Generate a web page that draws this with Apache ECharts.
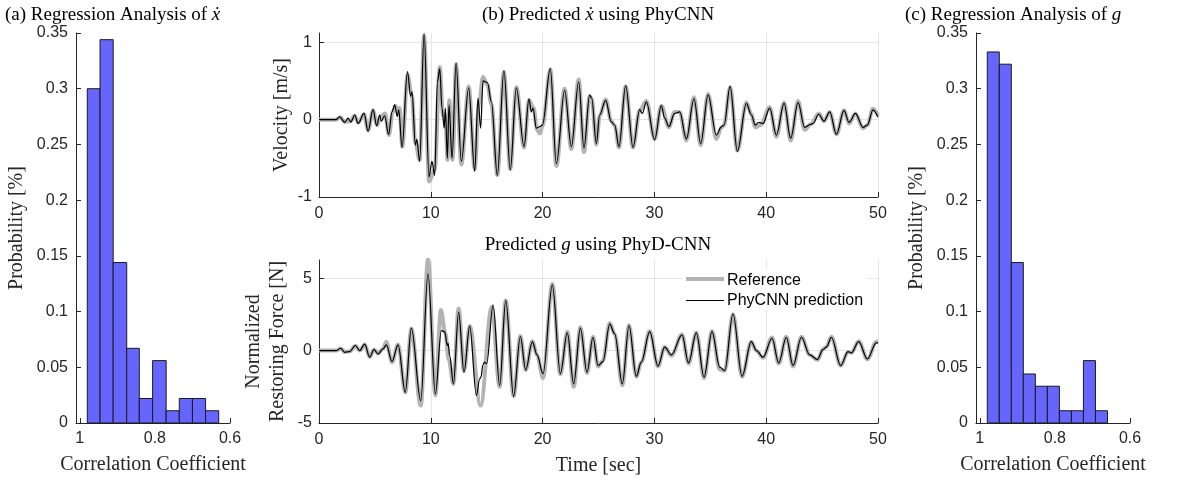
<!DOCTYPE html>
<html><head><meta charset="utf-8">
<script src="https://cdn.jsdelivr.net/npm/echarts@6/dist/echarts.min.js"></script>
<style>html,body{margin:0;padding:0;background:#fff}#c{width:1184px;height:480px}</style>
</head><body><div id="c"></div>
<script>
// ---------- Histogram (a): regression of x-dot ----------
const binEdgesA = [0.980, 0.946, 0.911, 0.875, 0.8415, 0.806, 0.770, 0.735, 0.700, 0.665, 0.630];
const probA = [0.300, 0.344, 0.144, 0.067, 0.022, 0.056, 0.011, 0.022, 0.022, 0.011];
// ---------- Histogram (c): regression of g ----------
const binEdgesC = [0.980, 0.948, 0.916, 0.884, 0.852, 0.820, 0.788, 0.756, 0.724, 0.692, 0.660];
const probC = [0.333, 0.322, 0.144, 0.044, 0.033, 0.033, 0.011, 0.011, 0.056, 0.011];
const corrTicks = ['1', '0.8', '0.6'];

// ---------- (b) velocity: reference ----------
const velRefT = [0,1.5,1.9,2.3,2.8,3.2,3.5,4.03,4.39,4.83,5.2,5.5,5.9,6.25,6.6,6.85,7.05,7.2,7.45,7.92,8.3,8.62,9.0,9.4,9.85,10.35,10.8,11.1,11.3,11.5,11.65,11.95,12.26,12.73,13.39,13.93,14.3,14.67,15.06,15.42,15.95,16.54,17.11,17.65,18.34,18.78,19.2,19.5,19.75,20.0,20.69,21.23,21.97,22.57,23.23,23.70,24.21,24.39,24.81,25.1,25.64,26.15,26.45,26.83,27.43,28.09,28.68,29.28,30.02,30.62,31.3,31.8,32.26,32.86,33.54,34.14,34.8,35.54,36.0,36.23,36.77,37.42,38.23,38.67,39.03,39.5,40.31,40.91,41.6,42.19,42.85,43.44,43.98,44.7,45.17,45.68,46.28,46.96,47.41,47.98,48.66,49.05,49.55,50];
const velRefV = [0,0,0.03,-0.03,-0.02,0.05,-0.04,0.07,-0.14,0.12,-0.07,0.04,0.08,-0.2,0.1,0.18,0.08,0.15,-0.35,0.58,0.32,-0.3,-0.52,1.08,-0.80,-0.65,0.68,0.05,0.05,-0.52,0.25,-0.52,0.72,-0.58,0.43,-0.64,0.2,0.55,0.45,0.2,-0.72,0.62,-0.64,0.42,-0.36,0.25,0.15,-0.13,-0.18,-0.08,0.65,-0.60,0.40,-0.38,0.52,-0.42,0.30,0.27,-0.32,0.05,0.26,-0.02,-0.08,-0.36,0.43,-0.36,0.12,0.24,-0.25,0.18,-0.1,0.1,0.1,-0.27,0.29,-0.33,0.33,-0.25,-0.1,-0.07,0.42,-0.40,0.22,0.07,-0.1,-0.07,0.16,-0.22,0.22,-0.27,0.24,-0.13,-0.06,0.08,-0.02,0.10,-0.19,0.12,-0.05,0.08,-0.11,-0.07,0.14,0.05];
// ---------- (b) velocity: PhyCNN prediction ----------
const velPredT = [0,1.5,1.85,2.3,2.6,2.84,3.2,3.5,4.03,4.39,4.83,5.16,5.43,5.58,5.87,6.23,6.53,6.77,7.0,7.13,7.43,7.91,8.2,8.32,8.62,8.75,9.0,9.4,9.84,10.1,10.35,10.59,10.8,11.0,11.2,11.3,11.48,11.63,11.9,12.26,12.73,13.39,13.93,14.22,14.46,14.67,15.06,15.42,15.95,16.54,17.11,17.65,18.34,18.78,18.99,19.14,19.44,19.74,19.98,20.69,21.23,21.97,22.57,23.23,23.70,24.21,24.39,24.81,25.1,25.64,26.15,26.45,26.83,27.43,28.09,28.68,28.92,29.28,30.02,30.62,30.92,31.3,31.8,32.26,32.86,33.54,34.14,34.8,35.54,36.0,36.23,36.77,37.42,38.23,38.67,39.03,39.33,39.72,40.31,40.91,41.6,42.19,42.85,43.44,43.98,44.19,44.7,45.17,45.68,46.28,46.96,47.41,47.98,48.66,49.05,49.55,50];
const velPredV = [0,0,0.035,-0.035,0.02,-0.03,0.06,-0.05,0.08,-0.15,0.13,-0.08,0.06,-0.02,0.05,-0.19,0.10,0.19,0.04,0.125,-0.36,0.62,0.30,0.36,-0.33,-0.25,-0.54,1.12,-0.74,-0.54,-0.72,0.49,0.66,0.15,-0.11,0.15,-0.50,0.19,-0.5,0.73,-0.54,0.41,-0.67,0.28,-0.11,0.50,0.48,0.23,-0.72,0.63,-0.65,0.41,-0.35,0.27,0.10,0.15,-0.11,-0.09,-0.07,0.66,-0.57,0.38,-0.35,0.49,-0.37,0.32,0.28,-0.31,0.06,0.25,-0.03,-0.07,-0.35,0.44,-0.36,0.13,0.08,0.23,-0.26,0.18,0.02,-0.09,0.08,0.10,-0.25,0.27,-0.31,0.32,-0.20,-0.09,-0.07,0.43,-0.41,0.21,0.06,-0.07,-0.035,-0.05,0.15,-0.20,0.21,-0.24,0.22,-0.10,-0.06,-0.05,0.07,-0.02,0.10,-0.19,0.12,-0.035,0.08,-0.10,-0.07,0.125,0.03];

// ---------- (b) restoring force: reference ----------
const frcRefT = [0,1.55,1.94,2.3,2.75,3.25,3.64,4.09,4.53,4.92,5.28,5.73,6.02,6.53,7.07,7.72,8.26,9.1,9.75,10.41,10.9,11.3,11.6,12.02,12.49,12.97,13.48,14.45,15.45,16.16,16.7,17.41,18.01,18.49,19.08,19.5,20.04,20.87,21.59,22.21,22.78,23.38,23.97,24.51,24.96,25.4,26.0,26.45,27.13,27.73,28.38,28.83,29.58,30.32,30.92,31.52,32.47,33.05,33.75,34.44,35.15,35.84,36.29,37.03,37.84,38.67,39.12,39.72,40.52,41.12,41.8,42.4,43.15,43.89,44.58,45.08,45.38,45.83,46.66,47.32,47.62,48.27,49.05,49.85,50];
const frcRefV = [0,0,0.14,-0.1,-0.05,0.33,0,0.42,-0.45,0.08,-0.22,0.14,0.6,-0.8,0.42,-2.9,1.5,-3.8,6.3,-3.1,2.8,1.2,-0.6,-2.3,2.9,-1.4,1.7,-3.8,3.0,-2.5,3.45,-3.15,1.0,-1.35,0.65,-0.3,-1.9,4.6,-1.65,1.3,-2.5,1.6,-1.55,0.95,-1.1,-0.7,1.9,1.15,-2.4,1.75,-1.8,-0.8,1.35,-1.1,0.25,-0.35,1.1,-0.9,1.25,-1.9,1.35,-1.3,-1.4,2.5,-1.8,0.6,0,-0.5,0.9,-0.9,0.95,-1.1,0.95,-0.3,-0.65,0.1,0.25,0.95,-1.05,-0.1,-0.15,0.65,-0.6,0.6,0.6];
// ---------- (b) restoring force: PhyCNN prediction ----------
const frcPredT = [0,1.55,1.94,2.3,2.75,3.25,3.64,4.09,4.53,4.92,5.28,5.73,6.02,6.53,7.07,7.72,8.26,9.1,9.75,10.41,10.94,11.24,11.48,11.55,11.69,12.02,12.49,12.97,13.48,14.08,14.37,14.5,14.65,14.82,15.0,15.57,16.16,16.7,17.41,18.01,18.49,19.08,19.5,20.04,20.87,21.59,22.21,22.78,23.38,23.97,24.51,24.96,25.4,26.0,26.45,27.13,27.73,28.38,28.83,29.58,30.32,30.92,31.52,32.47,33.05,33.75,34.44,35.15,35.84,36.29,37.03,37.84,38.67,39.12,39.72,40.52,41.12,41.8,42.4,43.15,43.89,44.58,45.08,45.38,45.83,46.66,47.32,47.62,48.27,49.05,49.85,50];
const frcPredV = [0,0,0.16,-0.12,-0.07,0.35,0,0.44,-0.46,0.07,-0.23,0.12,0.39,-0.76,0.39,-2.88,1.55,-3.46,5.3,-3.0,1.38,1.3,0.35,0.5,-0.35,-2.3,2.65,-1.5,1.68,-3.1,-1.96,-1.8,-1.0,-0.8,-0.9,3.16,-2.42,3.46,-3.16,0.97,-1.34,0.62,-0.3,-1.6,4.54,-1.6,1.22,-2.3,1.55,-1.5,0.92,-1.04,-0.76,1.82,1.15,-2.3,1.73,-1.78,-0.8,1.31,-1.08,0.23,-0.3,1.08,-0.85,1.22,-1.84,1.31,-1.15,-1.38,2.54,-1.78,0.62,0,-0.46,0.85,-0.85,0.92,-1.04,0.92,-0.3,-0.62,0.07,0.23,0.92,-1.04,-0.07,-0.16,0.62,-0.58,0.53,0.55];
const legendNames = ['Reference', 'PhyCNN prediction'];

const pair = (t, v) => t.map((x, i) => [x, v[i]]);
const histData = (edges, p) => p.map((h, i) => [edges[i], edges[i + 1], h]);

const AX = '#262626', GRID = '#e4e4e4', REF = '#b3b3b3';
const SANS = '"Liberation Sans", Arial, sans-serif';
const SERIF = '"Liberation Serif", "Times New Roman", serif';
const FS = 16, NS = 20, TS = 19;

function histX(idx) {
  return {
    gridIndex: idx, type: 'value', inverse: true, min: 0.6, max: 1.01, interval: 0.2,
    axisLine: {show: true, lineStyle: {color: AX}},
    axisTick: {show: true, inside: true, length: 5, lineStyle: {color: AX}},
    splitLine: {show: false},
    axisLabel: {color: AX, fontFamily: SANS, fontSize: FS, margin: 8,
      formatter: v => Math.abs(v - 1) < 1e-6 ? corrTicks[0] : Math.abs(v - 0.8) < 1e-6 ? corrTicks[1] : Math.abs(v - 0.6) < 1e-6 ? corrTicks[2] : ''},
    name: 'Correlation Coefficient', nameLocation: 'middle', nameGap: 32,
    nameTextStyle: {color: AX, fontFamily: SERIF, fontSize: NS}
  };
}
function histY(idx) {
  return {
    gridIndex: idx, type: 'value', min: 0, max: 0.35, interval: 0.05,
    axisLine: {show: true, lineStyle: {color: AX}},
    axisTick: {show: true, inside: true, length: 5, lineStyle: {color: AX}},
    splitLine: {show: false},
    axisLabel: {color: AX, fontFamily: SANS, fontSize: FS, margin: 8},
    name: 'Probability [%]', nameLocation: 'middle', nameGap: 49, nameRotate: 90,
    nameTextStyle: {color: AX, fontFamily: SERIF, fontSize: NS}
  };
}
function timeX(idx, withName) {
  return {
    gridIndex: idx, type: 'value', min: 0, max: 50, interval: 10,
    axisLine: {show: true, onZero: false, lineStyle: {color: AX}},
    axisTick: {show: true, inside: true, length: 5, lineStyle: {color: AX}},
    splitLine: {show: true, lineStyle: {color: GRID}},
    axisLabel: {color: AX, fontFamily: SANS, fontSize: FS, margin: 9},
    name: withName ? 'Time [sec]' : '', nameLocation: 'middle', nameGap: 33,
    nameTextStyle: {color: AX, fontFamily: SERIF, fontSize: NS}
  };
}
function timeY(idx, min, max, interval, name, gap) {
  return {
    gridIndex: idx, type: 'value', min: min, max: max, interval: interval,
    axisLine: {show: true, lineStyle: {color: AX}},
    axisTick: {show: true, inside: true, length: 5, lineStyle: {color: AX}},
    splitLine: {show: true, showMaxLine: false, lineStyle: {color: GRID}},
    axisLabel: {color: AX, fontFamily: SANS, fontSize: FS, margin: 7, showMaxLabel: false,
      formatter: v => (Math.abs(v / interval - Math.round(v / interval)) < 1e-6) ? String(Math.round(v)) : ''},
    name: name, nameLocation: 'middle', nameGap: gap, nameRotate: 90,
    nameTextStyle: {color: AX, fontFamily: SERIF, fontSize: NS, lineHeight: 24}
  };
}
function histSeries(idx, edges, p) {
  return {
    type: 'custom', xAxisIndex: idx, yAxisIndex: idx, data: histData(edges, p),
    renderItem: function (params, api) {
      const a = api.coord([api.value(0), api.value(2)]);
      const b = api.coord([api.value(1), 0]);
      return {type: 'rect', shape: {x: Math.min(a[0], b[0]), y: a[1], width: Math.abs(b[0] - a[0]), height: b[1] - a[1]},
        style: {fill: '#6666ff', stroke: '#1a1a1a', lineWidth: 1}};
    }
  };
}
function lineSeries(name, idx, t, v, color, width, z) {
  return {
    name: name, type: 'line', xAxisIndex: idx, yAxisIndex: idx, data: pair(t, v),
    showSymbol: false, symbol: 'none', smooth: 0.35, smoothMonotone: 'x', clip: true, z: z,
    lineStyle: {color: color, width: width}, itemStyle: {color: color}, animation: false
  };
}

const chart = echarts.init(document.getElementById('c'), null, {renderer: 'canvas'});
const titleStyle = {font: TS + 'px ' + SERIF, fill: '#000', verticalAlign: 'middle'};
const rich = {i: {fontStyle: 'italic', fontFamily: SERIF, fontSize: TS}};
chart.setOption({
  animation: false,
  backgroundColor: '#fff',
  grid: [
    {left: 76, top: 33, width: 154, height: 390},
    {left: 319, top: 33, width: 559, height: 164},
    {left: 319, top: 260, width: 559, height: 163},
    {left: 976, top: 33, width: 154, height: 390}
  ],
  xAxis: [histX(0), timeX(1, false), timeX(2, true), histX(3)],
  yAxis: [histY(0), timeY(1, -1, 1.12, 1, 'Velocity [m/s]', 25), timeY(2, -5, 6.25, 5, 'Normalized\nRestoring Force [N]', 29), histY(3)],
  series: [
    histSeries(0, binEdgesA, probA),
    histSeries(3, binEdgesC, probC),
    lineSeries(legendNames[0], 1, velRefT, velRefV, REF, 4, 2),
    lineSeries(legendNames[1], 1, velPredT, velPredV, '#000', 1.2, 3),
    lineSeries(legendNames[0], 2, frcRefT, frcRefV, REF, 4, 2),
    lineSeries(legendNames[1], 2, frcPredT, frcPredV, '#000', 1.2, 3)
  ],
  graphic: [
    {type: 'text', x: 5, y: 15, style: Object.assign({}, titleStyle, {align: 'left', text: '(a) Regression Analysis of {i|ẋ}', rich: rich})},
    {type: 'text', x: 598, y: 15, style: Object.assign({}, titleStyle, {align: 'center', text: '(b) Predicted {i|ẋ} using PhyCNN', rich: rich})},
    {type: 'text', x: 598, y: 245, style: Object.assign({}, titleStyle, {align: 'center', text: 'Predicted {i|g} using PhyD-CNN', rich: rich})},
    {type: 'text', x: 905, y: 15, style: Object.assign({}, titleStyle, {align: 'left', text: '(c) Regression Analysis of {i|g}', rich: rich})},
    // legend box
    {type: 'rect', z: 100, shape: {x: 683, y: 268, width: 184, height: 42}, style: {fill: '#fff'}},
    {type: 'line', z: 101, shape: {x1: 686, y1: 279, x2: 724, y2: 279}, style: {stroke: REF, lineWidth: 4}},
    {type: 'line', z: 101, shape: {x1: 686, y1: 300.5, x2: 724, y2: 300.5}, style: {stroke: '#000', lineWidth: 1.2}},
    {type: 'text', z: 101, x: 727, y: 281, style: {text: legendNames[0], font: FS + 'px ' + SANS, fill: '#000', verticalAlign: 'middle', align: 'left'}},
    {type: 'text', z: 101, x: 727, y: 301, style: {text: legendNames[1], font: FS + 'px ' + SANS, fill: '#000', verticalAlign: 'middle', align: 'left'}}
  ]
});
</script></body></html>
